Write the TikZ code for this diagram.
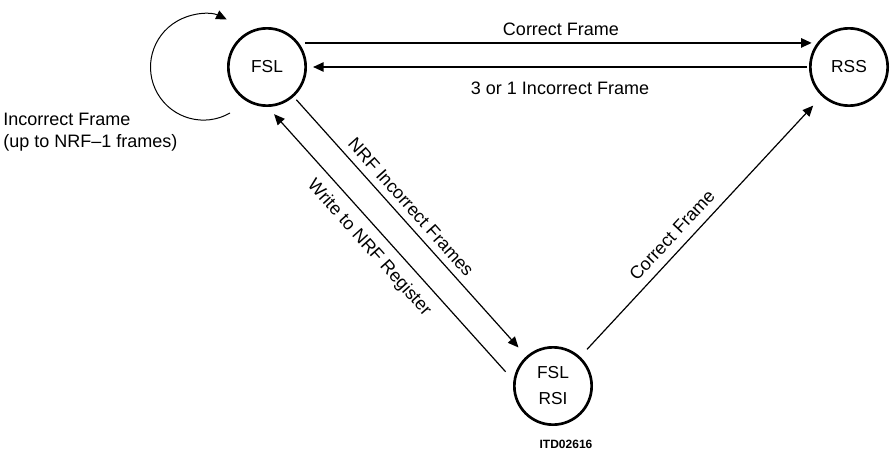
\documentclass[tikz,border=0pt]{standalone}
\usepackage{fontspec}
\setmainfont{Liberation Sans}
\usetikzlibrary{arrows.meta,calc}
\begin{document}
\begin{tikzpicture}[x=0.75pt,y=0.75pt,
  state/.style={circle,draw,line width=2pt,minimum size=58pt,inner sep=0pt,
    font=\fontsize{13}{19.5}\selectfont,align=center},
  harr/.style={-{Triangle[length=8pt,width=7pt]},line width=1.3pt},
  darr/.style={-{Triangle[length=8pt,width=7pt]},line width=0.9pt},
  lbl/.style={font=\fontsize{13.5}{16}\selectfont,inner sep=0pt}]
\useasboundingbox (0,0) rectangle (892,-450);
% states
\node[state] (FSL) at (267,-67) {FSL};
\node[state] (RSS) at (849,-67) {RSS};
\node[state] (FR) at (553,-386) {FSL\\RSI};
% horizontal connectors
\draw[harr, shorten <=4.5pt, shorten >=4pt] (FSL.37) -- (RSS.143);
\draw[harr, shorten <=1.5pt, shorten >=4.5pt] (RSS.west) -- (FSL.east);
% diagonal connectors
\draw[darr, shorten <=3pt, shorten >=8.8pt] (FSL) -- (FR);
\draw[darr, shorten <=8.7pt, shorten >=7.2pt] (FR.172) -- (FSL.-89);
\draw[darr, shorten <=7.5pt, shorten >=9.5pt] (FR) -- (RSS);
% self loop
\draw[darr, line width=0.75pt] ([shift={(-37,-46)}]FSL.center) arc[start angle=-60, end angle=-296, radius=39.75pt];
% labels
\node[lbl,anchor=base] (lcf) at (561,-35) {Correct Frame};
\node[lbl,anchor=base] (lif) at (560,-94) {3 or 1 Incorrect Frame};
\node[lbl,anchor=base west] (ls1) at (3,-125) {Incorrect Frame};
\node[lbl,anchor=base west] (ls2) at (3,-147) {(up to NRF--1 frames)};
\node[lbl,rotate=-48.1] (lnrf) at (411,-207) {NRF Incorrect Frames};
\node[lbl,rotate=-48.1] (lwr) at (369,-248) {Write to NRF Register};
\node[lbl,rotate=47.1] (lcd) at (672,-235) {Correct Frame};
\node[font=\fontsize{9}{10}\selectfont\bfseries,inner sep=0pt] (itd) at (566,-444) {ITD02616};
\end{tikzpicture}
\end{document}
